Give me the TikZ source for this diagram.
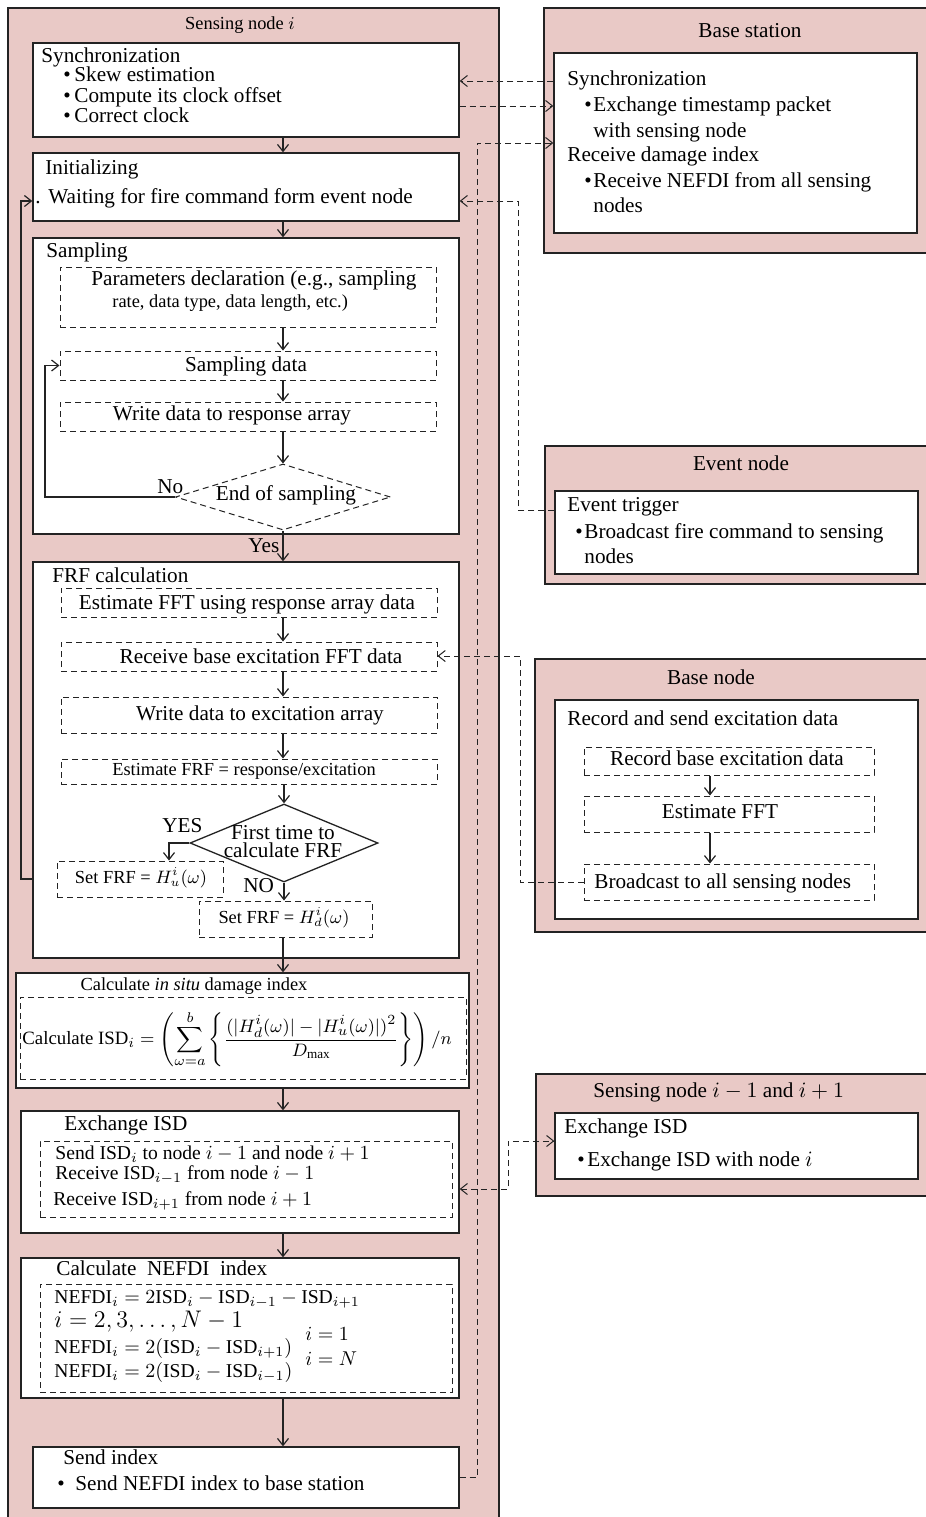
\documentclass[tikz,border=0pt]{standalone}
\usepackage{fontspec}
\usepackage{amsmath}
\setmainfont{Liberation Serif}
\usetikzlibrary{arrows.meta,fit,shapes.geometric,calc}
\definecolor{pinkbg}{RGB}{233,201,198}
\definecolor{edge}{RGB}{35,35,35}
\begin{document}
\begin{tikzpicture}[x=0.5pt,y=-0.5pt,
  >={Straight Barb[length=3.5pt,width=5.5pt]},
  pinkbox/.style={draw=edge, fill=pinkbg, line width=0.65pt, inner sep=0pt},
  wbox/.style={draw=edge, fill=white, line width=0.65pt, inner sep=0pt},
  dbox/.style={draw=edge, dash pattern=on 3pt off 2pt, line width=0.5pt, inner sep=0pt},
  dline/.style={draw=edge, dash pattern=on 3pt off 2pt, line width=0.5pt},
  arr/.style={draw=edge, line width=0.6pt, ->},
  txl/.style={inner sep=0pt, anchor=base west, font=\fontsize{10.6}{12.5}\selectfont},
  txc/.style={txl, anchor=base},
  sml/.style={inner sep=0pt, anchor=base west, font=\fontsize{9.2}{11}\selectfont},
  smc/.style={sml, anchor=base},
  eqn/.style={inner sep=0pt, anchor=base west, font=\fontsize{9.8}{12}\selectfont}]
\useasboundingbox (0,0) rectangle (926,1517);
\fill[white] (0,0) rectangle (926,1517);
\clip (0,0) rectangle (926,1517);

% ---------- outer containers ----------
\node[pinkbox, fit={(8,8)(499,1530)}] (sen) {};
\node[pinkbox, fit={(544,8)(940,253)}] (bs) {};
\node[wbox, fit={(554,53)(917,233)}] (bsin) {};
\node[pinkbox, fit={(545,446)(940,584)}] (ev) {};
\node[wbox, fit={(555,491)(918,574)}] (evin) {};
\node[pinkbox, fit={(535,659)(940,932)}] (bn) {};
\node[wbox, fit={(555,700)(918,919)}] (bnin) {};
\node[dbox, fit={(584,747)(874,775)}] (rec) {};
\node[dbox, fit={(584,796)(874,832)}] (efft) {};
\node[dbox, fit={(584,864)(874,900)}] (bcast) {};
\node[pinkbox, fit={(536,1074)(940,1196)}] (sn) {};
\node[wbox, fit={(555,1113)(918,1179)}] (snin) {};

% ---------- left column ----------
\node[wbox, fit={(33,43)(459,137)}] (sync) {};
\node[wbox, fit={(33,153)(459,221)}] (init) {};
\node[wbox, fit={(33,238)(459,534)}] (samp) {};
\node[dbox, fit={(60,267)(436,327)}] (param) {};
\node[dbox, fit={(60,351)(436,380)}] (sdata) {};
\node[dbox, fit={(60,402)(436,431)}] (wresp) {};
\node[dbox, diamond, minimum width=107.5pt, minimum height=33pt] (d1) at (283,497) {};
\node[wbox, fit={(33,562)(459,958)}] (frf) {};
\node[dbox, fit={(61,588)(437,617)}] (estfft) {};
\node[dbox, fit={(61,642)(437,671)}] (rbase) {};
\node[dbox, fit={(61,697)(437,733)}] (wexc) {};
\node[dbox, fit={(61,759)(437,784)}] (estfrf) {};
\node[draw=edge, line width=0.65pt, diamond, inner sep=0pt, minimum width=94pt, minimum height=39pt] (d2) at (284,843) {};
\node[dbox, fit={(57,861)(223,897)}] (hu) {};
\node[dbox, fit={(199,901)(372,937)}] (hd) {};
\node[wbox, fit={(16,973)(469,1088)}] (isd) {};
\node[dbox, fit={(20,997)(466,1079)}] (isdf) {};
\node[wbox, fit={(21,1111)(459,1233)}] (exch) {};
\node[dbox, fit={(40,1141)(452,1217)}] (exchd) {};
\node[wbox, fit={(21,1258)(459,1398)}] (nef) {};
\node[dbox, fit={(40,1284)(452,1392)}] (nefd) {};
\node[wbox, fit={(33,1447)(459,1508)}] (send) {};

% ---------- texts: sensing node i ----------
\node[smc] (tsen) at (240,29) {Sensing node $i$};
\node[txl] (t1) at (41,62) {Synchronization};
\node[txl] (b1) at (63,81) {\textbullet};
\node[txl] (t2) at (74,81) {Skew estimation};
\node[txl] (b2) at (63,102) {\textbullet};
\node[txl] (t3) at (74,102) {Compute its clock offset};
\node[txl] (b3) at (63,122) {\textbullet};
\node[txl] (t4) at (74,122) {Correct clock};
\node[txl] (t5) at (45,174) {Initializing};
\node[txl] (b4) at (35,203) {.};
\node[txl] (t6) at (48,203) {Waiting for fire command form event node};
\node[txl] (t7) at (46,257) {Sampling};
\node[txl] (t8) at (91,285) {Parameters declaration (e.g., sampling};
\node[sml] (t9) at (112,307) {rate, data type, data length, etc.)};
\node[txc] (t10) at (246,371) {Sampling data};
\node[txc] (t11) at (232,420) {Write data to response array};
\node[txc] (t12) at (286,500) {End of sampling};
\node[txl] (t13) at (157,493) {No};
\node[txl] (t14) at (248,552) {Yes};
\node[txl] (t15) at (52,582) {FRF calculation};
\node[txc] (t16) at (247,609) {Estimate FFT using response array data};
\node[txc] (t17) at (261,663) {Receive base excitation FFT data};
\node[txc] (t18) at (260,720) {Write data to excitation array};
\node[smc] (t19) at (244,775) {Estimate FRF = response/excitation};
\node[txl] (t20) at (162,832) {YES};
\node[txc] (t21) at (283,839) {First time to};
\node[txc] (t22) at (283,857) {calculate FRF};
\node[smc] (t23) at (141,883) {Set FRF = $H_u^i(\omega)$};
\node[txl] (t24) at (243,892) {NO};
\node[smc] (t25) at (284,923) {Set FRF = $H_d^i(\omega)$};
\node[smc] (t26) at (194,990) {Calculate \textit{in situ} damage index};
\node[anchor=west, inner sep=0pt, font=\fontsize{9.4}{11}\selectfont] (t27) at (22,1039)
  {Calculate ISD$_i = \displaystyle\left(\sum_{\omega=a}^{b}\left\{\frac{(|H_d^i(\omega)|-|H_u^i(\omega)|)^2}{D_{\max}}\right\}\right)/n$};
\node[txl] (t28) at (64,1130) {Exchange ISD};
\node[eqn] (t29) at (55,1159) {Send ISD$_i$ to node $i-1$ and node $i+1$};
\node[eqn] (t30) at (55,1179) {Receive ISD$_{i-1}$ from node $i-1$};
\node[eqn] (t31) at (53,1205) {Receive ISD$_{i+1}$ from node $i+1$};
\node[txl] (t32) at (56,1275) {Calculate\ \ NEFDI\ \ index};
\node[eqn] (t33) at (54,1303) {$\text{NEFDI}_i=2\text{ISD}_i-\text{ISD}_{i-1}-\text{ISD}_{i+1}$};
\node[txl, font=\fontsize{11.6}{14}\selectfont] (t34) at (54,1327) {$i=2,3,\ldots,N-1$};
\node[eqn] (t35) at (54,1353) {$\text{NEFDI}_i=2(\text{ISD}_i-\text{ISD}_{i+1})$};
\node[eqn] (t36) at (54,1377) {$\text{NEFDI}_i=2(\text{ISD}_i-\text{ISD}_{i-1})$};
\node[eqn] (t37) at (305,1340) {$i=1$};
\node[eqn] (t38) at (305,1365) {$i=N$};
\node[txl] (t39) at (63,1464) {Send index};
\node[txl] (b5) at (57,1490) {\textbullet};
\node[txl] (t40) at (75,1490) {Send NEFDI index to base station};

% ---------- texts: right side ----------
\node[txc] (t41) at (750,37) {Base station};
\node[txl] (t42) at (567,85) {Synchronization};
\node[txl] (b6) at (584,111) {\textbullet};
\node[txl] (t43) at (593,111) {Exchange timestamp packet};
\node[txl] (t44) at (593,137) {with sensing node};
\node[txl] (t45) at (567,161) {Receive damage index};
\node[txl] (b7) at (584,187) {\textbullet};
\node[txl] (t46) at (593,187) {Receive NEFDI from all sensing};
\node[txl] (t47) at (593,212) {nodes};
\node[txc] (t48) at (741,470) {Event node};
\node[txl] (t49) at (567,511) {Event trigger};
\node[txl] (b8) at (575,538) {\textbullet};
\node[txl] (t50) at (584,538) {Broadcast fire command to sensing};
\node[txl] (t51) at (584,563) {nodes};
\node[txc] (t52) at (711,684) {Base node};
\node[txl] (t53) at (567,725) {Record and send excitation data};
\node[txc] (t54) at (727,765) {Record base excitation data};
\node[txc] (t55) at (720,818) {Estimate FFT};
\node[txl] (t56) at (594,888) {Broadcast to all sensing nodes};
\node[txl] (t57) at (593,1097) {Sensing node $i-1$ and $i+1$};
\node[txl] (t58) at (564,1133) {Exchange ISD};
\node[txl] (b9) at (577,1166) {\textbullet};
\node[txl] (t59) at (587,1166) {Exchange ISD with node $i$};

% ---------- solid connectors ----------
\coordinate (ax) at (283,0);
\draw[arr] (sync.south -| ax) -- (init.north -| ax);
\draw[arr] (init.south -| ax) -- (samp.north -| ax);
\draw[arr] (param.south -| ax) -- (sdata.north -| ax);
\draw[arr] (sdata.south -| ax) -- (wresp.north -| ax);
\draw[arr] (wresp.south -| d1.north) -- (d1.north);
\draw[arr] (d1.south) -- (frf.north -| d1.south);
\draw[arr] (estfft.south -| ax) -- (rbase.north -| ax);
\draw[arr] (rbase.south -| ax) -- (wexc.north -| ax);
\draw[arr] (wexc.south -| ax) -- (estfrf.north -| ax);
\draw[arr] (estfrf.south -| d2.north) -- (d2.north);
\coordinate (yesx) at (169,0);
\draw[arr] (d2.west) -| (hu.north -| yesx);
\draw[arr] (d2.south) -- (hd.north -| d2.south);
\draw[arr] (hd.south -| ax) -- (isd.north -| ax);
\draw[arr] (isd.south -| ax) -- (exch.north -| ax);
\draw[arr] (exch.south -| ax) -- (nef.north -| ax);
\draw[arr] (nef.south -| ax) -- (send.north -| ax);
\coordinate (lpx) at (21,0);
\coordinate (initin) at (33,201);
\draw[arr] (frf.west |- hu.west) -- (lpx |- hu.west) -- (lpx |- initin) -- (init.west |- initin);
\coordinate (slx) at (45,0);
\draw[arr] (d1.west) -- (slx |- d1.west) -- (slx |- sdata.west) -- (sdata.west);
\coordinate (bx) at (710,0);
\draw[arr] (rec.south -| bx) -- (efft.north -| bx);
\draw[arr] (efft.south -| bx) -- (bcast.north -| bx);

% ---------- dashed connectors ----------
\coordinate (yA) at (0,81);
\coordinate (yB) at (0,106);
\coordinate (yC) at (0,143);
\draw[dline,->] (bsin.west |- yA) -- (sync.east |- yA);
\draw[dline,->] (sync.east |- yB) -- (bsin.west |- yB);
\coordinate (vx1) at (477,0);
\draw[dline,->] (send.east) -- (vx1 |- send.east) -- (vx1 |- yC) -- (bsin.west |- yC);
\coordinate (vx2) at (518,510);
\draw[dline,->] (evin.west |- vx2) -- (vx2) -- (vx2 |- initin) -- (init.east |- initin);
\coordinate (vx3) at (520,656);
\draw[dline,->] (bcast.west) -- (vx3 |- bcast.west) -- (vx3) -- (rbase.east |- vx3);
\coordinate (vx4) at (508,1141);
\coordinate (yE) at (0,1189);
\draw[dline,<->] (exch.east |- yE) -- (vx4 |- yE) -- (vx4) -- (snin.west |- vx4);
\end{tikzpicture}
\end{document}
